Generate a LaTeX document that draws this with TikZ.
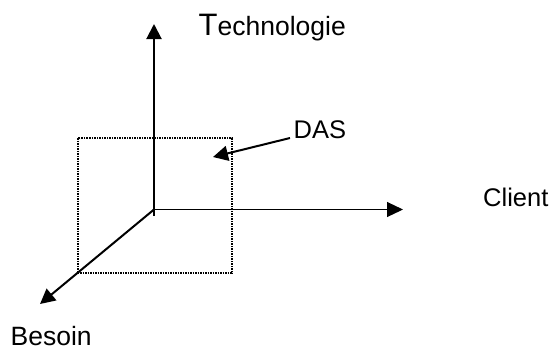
\documentclass[tikz,border=0pt]{standalone}
\usepackage{fontspec}
\setmainfont{Liberation Sans}
\usetikzlibrary{arrows.meta}
\tikzset{
  axis/.style={line width=2pt,-{Triangle[length=15pt,width=15pt]}},
  thinaxis/.style={line width=1.1pt,-{Triangle[length=16pt,width=15pt]}},
  lab/.style={inner sep=0pt,font=\fontsize{25.5}{30}\selectfont},
  frame/.style={line width=2pt,dash pattern=on 1.5pt off 1pt,color=black}
}
\begin{document}
\begin{tikzpicture}[x=1pt,y=-1pt]
\useasboundingbox (0,0) rectangle (553,349);
\fill[white] (0,0) rectangle (553,349);
\coordinate (o) at (154,209.5);
\coordinate (ostart) at (154,216);
\coordinate (t) at (154,24);
\coordinate (c) at (403,209.5);
\coordinate (b) at (40,304);
\coordinate (das) at (290,138);
\coordinate (dasend) at (213,157);
\draw[frame] (77.5,138) rectangle (231.5,273);
\draw[axis] (ostart) -- (t);
\draw[thinaxis] (o) -- (c);
\draw[axis] (o) -- (b);
\draw[axis] (das) -- (dasend);
\node[lab,anchor=base west,font=\fontsize{26.5}{30}\selectfont] (ntech) at (198.5,35) {{\fontsize{31}{34}\selectfont T}echnologie};
\node[lab,anchor=base west] (ndas) at (293.5,138) {DAS};
\node[lab,anchor=base west] (nclient) at (483,206) {Client};
\node[lab,anchor=base west,font=\fontsize{26.5}{30}\selectfont] (nbesoin) at (10.5,345.5) {Besoin};
\end{tikzpicture}
\end{document}
